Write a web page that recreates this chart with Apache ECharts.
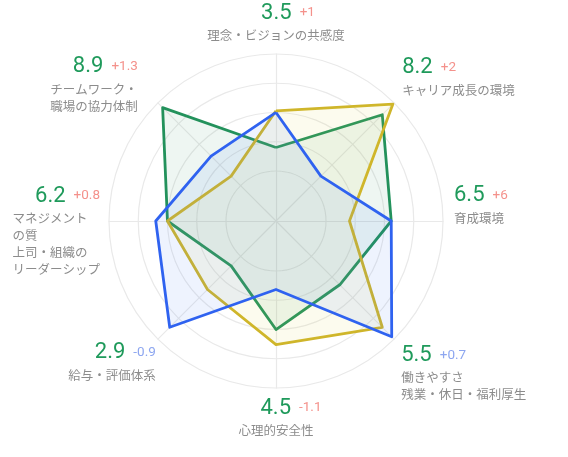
<!DOCTYPE html>
<html>
<head>
<meta charset="utf-8">
<script src="https://cdn.jsdelivr.net/npm/echarts@6/dist/echarts.min.js"></script>
<style>
html, body { margin: 0; padding: 0; background: #fff; }
#chart { width: 568px; height: 457px; }
</style>
</head>
<body>
<div id="chart"></div>
<script>
// 指標（上から反時計回り）
var categories = ['理念・ビジョンの共感度', 'チームワーク・\n職場の協力体制', 'マネジメント\nの質\n上司・組織の\nリーダーシップ', '給与・評価体系', '心理的安全性', '働きやすさ\n残業・休日・福利厚生', '育成環境', 'キャリア成長の環境'];
var scores = ['3.5', '8.9', '6.2', '2.9', '4.5', '5.5', '6.5', '8.2'];
var deltas = ['+1', '+1.3', '+0.8', '-0.9', '-1.1', '+0.7', '+6', '+2'];
var deltaTone = ['up', 'up', 'up', 'down', 'up', 'down', 'up', 'up'];
// 系列データ
var greenValues = [4.4, 9.6, 6.5, 3.8, 6.5, 5.4, 6.9, 9.0];
var yellowValues = [6.6, 3.8, 6.5, 5.8, 7.4, 9.0, 4.4, 9.9];
var blueValues = [6.5, 5.5, 7.2, 9.0, 4.1, 9.8, 6.9, 3.8];

// ラベルの位置調整（上下の余白、左右の余白、数値の前の余白）
var labelPad = [
    { top: 0, bottom: 7, side: 0, lead: 24 },
    { top: 0, bottom: 34, side: 18, lead: 0 },
    { top: 18, bottom: 0, side: 6, lead: 0 },
    { top: 40, bottom: 0, side: 0, lead: 0 },
    { top: 3, bottom: 0, side: 0, lead: 30 },
    { top: 62, bottom: 0, side: 5, lead: 0 },
    { top: 0, bottom: 34, side: 8, lead: 0 },
    { top: 0, bottom: 50, side: 6, lead: 0 }
];
// 左側のラベル（右揃え）
var rightAligned = [1, 2, 3];

var myChart = echarts.init(document.getElementById('chart'));

var indicators = categories.map(function (c) { return { name: c, min: 0, max: 10 }; });

var rich = {
    v: { fontSize: 22, color: '#1f9a5b', lineHeight: 28, fontFamily: 'Roboto' },
    sp: { width: 8, fontSize: 1 },
    up: { fontSize: 13.5, color: '#f4918b', lineHeight: 28, fontFamily: 'Roboto' },
    down: { fontSize: 13.5, color: '#8da6f0', lineHeight: 28, fontFamily: 'Roboto' },
    n: { fontSize: 12.5, color: '#8c8c8c', lineHeight: 17 },
    nl: { fontSize: 12.5, color: '#8c8c8c', lineHeight: 17, align: 'left' }
};
labelPad.forEach(function (p, i) {
    if (p.top) rich['t' + i] = { fontSize: 1, lineHeight: p.top, height: p.top };
    if (p.bottom) rich['b' + i] = { fontSize: 1, lineHeight: p.bottom, height: p.bottom };
    if (p.side) rich['h' + i] = { fontSize: 1, width: p.side };
    if (p.lead) rich['l' + i] = { fontSize: 1, width: p.lead };
});

function axisLabel(name) {
    var i = categories.indexOf(name);
    var p = labelPad[i];
    var isRight = rightAligned.indexOf(i) >= 0;
    var pad = p.side ? '{h' + i + '| }' : '';
    var head = isRight ? '' : pad;
    var tail = isRight ? pad : '';
    var out = [];
    if (p.top) out.push('{t' + i + '| }');
    out.push(head + (p.lead ? '{l' + i + '| }' : '') + '{v|' + scores[i] + '}{sp| }{' + deltaTone[i] + '|' + deltas[i] + '}' + tail);
    name.split('\n').forEach(function (t) {
        out.push(head + '{' + (isRight ? 'nl' : 'n') + '|' + t + '}' + tail);
    });
    if (p.bottom) out.push('{b' + i + '| }');
    return out.join('\n');
}

var option = {
    animation: false,
    textStyle: { fontFamily: '"Noto Sans CJK JP", "Noto Sans", sans-serif' },
    radar: [{
        // 目盛りの円
        center: [276, 221],
        radius: [50, 167],
        shape: 'circle',
        splitNumber: 4,
        indicator: indicators,
        axisName: { show: false },
        axisLine: { show: false },
        axisTick: { show: false },
        axisLabel: { show: false },
        splitArea: { show: false },
        splitLine: { lineStyle: { color: '#e9e9e9', width: 1.2 } }
    }, {
        // 軸線とラベル
        center: [276, 221],
        radius: 167,
        shape: 'circle',
        indicator: indicators,
        axisNameGap: 3,
        axisName: {
            formatter: axisLabel,
            rich: rich
        },
        axisLine: { lineStyle: { color: '#e9e9e9', width: 1.2 } },
        splitLine: { show: false },
        splitArea: { show: false }
    }],
    series: [{
        type: 'radar',
        radarIndex: 1,
        symbol: 'none',
        data: [{
            value: greenValues,
            lineStyle: { color: '#23925c', width: 2.8, join: 'round' },
            areaStyle: { color: 'rgba(35,146,92,0.11)' }
        }, {
            value: yellowValues,
            lineStyle: { color: '#cfb52a', width: 2.8, join: 'round' },
            areaStyle: { color: 'rgba(220,205,60,0.12)' }
        }, {
            value: blueValues,
            lineStyle: { color: '#2f62f0', width: 2.8, join: 'round' },
            areaStyle: { color: 'rgba(60,120,240,0.12)' }
        }]
    }]
};
myChart.setOption(option);
</script>
</body>
</html>
